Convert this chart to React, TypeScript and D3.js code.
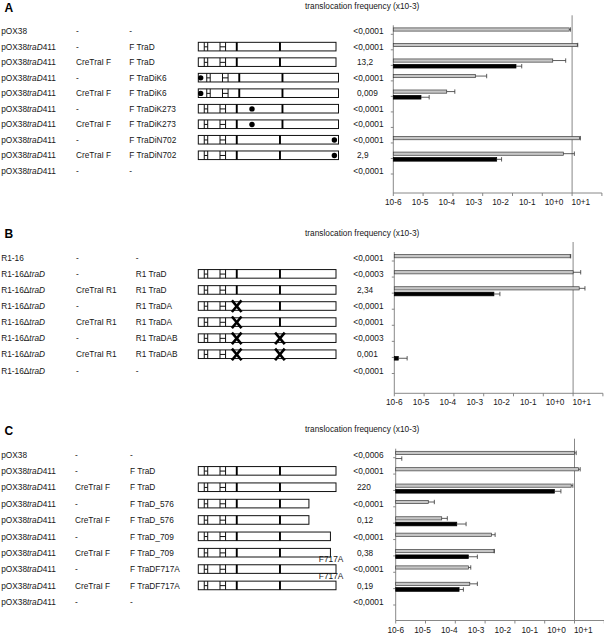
import React from "react";
import * as d3 from "d3";

// ---------- shared axis ----------
const tickValues = [1e-6, 1e-5, 1e-4, 1e-3, 1e-2, 1e-1, 1, 10];
const tickLabels = ["10-6", "10-5", "10-4", "10-3", "10-2", "10-1", "10+0", "10+1"];
const axisTitle = "translocation frequency (x10-3)";

// ---------- construct map features (aa positions) ----------
const hMotifs: [number, number][] = [[31, 49], [113, 142]];
const motifBars = [200, 425];
const insertSize = 13;

// ---------- Panel A ----------
const aStrain = ["pOX38", "pOX38traD411", "pOX38traD411", "pOX38traD411", "pOX38traD411", "pOX38traD411", "pOX38traD411", "pOX38traD411", "pOX38traD411", "pOX38traD411"];
const aRelaxase = ["-", "-", "CreTraI F", "-", "CreTraI F", "-", "CreTraI F", "-", "CreTraI F", "-"];
const aProtein = ["-", "F TraD", "F TraD", "F TraDiK6", "F TraDiK6", "F TraDiK273", "F TraDiK273", "F TraDiN702", "F TraDiN702", "-"];
const aFreq = ["<0,0001", "<0,0001", "13,2", "<0,0001", "0,009", "<0,0001", "<0,0001", "<0,0001", "2,9", "<0,0001"];
const aEnd = [null, 717, 717, 730, 730, 730, 730, 730, 730, null];
const aInsertAt = [null, null, null, 6, 6, 273, 273, 702, 702, null];
const aGray = [0.8, 1.49, 0.224, 5.65e-4, 6.2e-5, null, null, 1.75, 0.507, null];
const aGrayErr = [0.88, 1.55, 0.61, 1.36e-3, 1.16e-4, null, null, 1.9, 1.19, null];
const aBlack = [null, null, 0.0131, null, 8.5e-6, null, null, null, 2.95e-3, null];
const aBlackErr = [null, null, 0.0204, null, 1.6e-5, null, null, null, 4.3e-3, null];

// ---------- Panel B ----------
const bStrain = ["R1-16", "R1-16ΔtraD", "R1-16ΔtraD", "R1-16ΔtraD", "R1-16ΔtraD", "R1-16ΔtraD", "R1-16ΔtraD", "R1-16ΔtraD"];
const bRelaxase = ["-", "-", "CreTraI R1", "-", "CreTraI R1", "-", "CreTraI R1", "-"];
const bProtein = ["-", "R1 TraD", "R1 TraD", "R1 TraDA", "R1 TraDA", "R1 TraDAB", "R1 TraDAB", "-"];
const bFreq = ["<0,0001", "<0,0003", "2,34", "<0,0001", "<0,0001", "<0,0003", "0,001", "<0,0001"];
const bEnd = [null, 717, 717, 717, 717, 717, 717, null];
const bCrossed = [[], [], [], [200], [200], [200, 425], [200, 425], []];
const bGray = [0.8, 1.0, 1.6, null, null, null, null, null];
const bGrayErr = [0.83, 1.8, 2.5, null, null, null, null, null];
const bBlack = [null, null, 2.2e-3, null, null, null, 1.36e-6, null];
const bBlackErr = [null, null, 3.5e-3, null, null, null, 2.7e-6, null];

// ---------- Panel C ----------
const cStrain = ["pOX38", "pOX38traD411", "pOX38traD411", "pOX38traD411", "pOX38traD411", "pOX38traD411", "pOX38traD411", "pOX38traD411", "pOX38traD411", "pOX38traD411"];
const cRelaxase = ["-", "-", "CreTraI F", "-", "CreTraI F", "-", "CreTraI F", "-", "CreTraI F", "-"];
const cProtein = ["-", "F TraD", "F TraD", "F TraD_576", "F TraD_576", "F TraD_709", "F TraD_709", "F TraDF717A", "F TraDF717A", "-"];
const cFreq = ["<0,0006", "<0,0001", "220", "<0,0001", "0,12", "<0,0001", "0,38", "<0,0001", "0,19", "<0,0001"];
const cEnd = [null, 717, 717, 576, 576, 688, 688, 717, 717, null];
const cMutation = [null, null, null, null, null, null, null, "F717A", "F717A", null];
const cGray = [1.0, 1.36, 0.774, 1.24e-5, 3.5e-5, 1.63e-3, 2.0e-3, 2.75e-4, 3.06e-4, null];
const cGrayErr = [1.14, 1.55, 0.88, 1.98e-5, 5.4e-5, 2.17e-3, 2.04e-3, 3.3e-4, 5.5e-4, null];
const cBlack = [1e-6, null, 0.212, null, 1.12e-4, null, 2.75e-4, null, 1.34e-4, null];
const cBlackErr = [1.6e-6, null, 0.35, null, 2.3e-4, null, 5.5e-4, null, 1.87e-4, null];

const FONT = "'Liberation Sans', Arial, Helvetica, sans-serif";
const FS = 8.3;
const TXT = "#161616";

type Panel = {
  letter: string;
  strain: string[];
  relaxase: string[];
  protein: string[];
  freq: string[];
  end: (number | null)[];
  insertAt?: (number | null)[];
  crossed?: number[][];
  mutation?: (string | null)[];
  gray: (number | null)[];
  grayErr: (number | null)[];
  black: (number | null)[];
  blackErr: (number | null)[];
  rowTop: number;
  rowBottom: number;
  axisY: number;
  x0: number;
  col2: number;
  col3: number;
};

const panels: Panel[] = [
  {
    letter: "A", strain: aStrain, relaxase: aRelaxase, protein: aProtein, freq: aFreq,
    end: aEnd, insertAt: aInsertAt, gray: aGray, grayErr: aGrayErr, black: aBlack, blackErr: aBlackErr,
    rowTop: 31.3, rowBottom: 171, axisY: 193, x0: 393.3, col2: 76, col3: 129.3,
  },
  {
    letter: "B", strain: bStrain, relaxase: bRelaxase, protein: bProtein, freq: bFreq,
    end: bEnd, crossed: bCrossed, gray: bGray, grayErr: bGrayErr, black: bBlack, blackErr: bBlackErr,
    rowTop: 258, rowBottom: 370.5, axisY: 393.3, x0: 394.3, col2: 76, col3: 135.7,
  },
  {
    letter: "C", strain: cStrain, relaxase: cRelaxase, protein: cProtein, freq: cFreq,
    end: cEnd, mutation: cMutation, gray: cGray, grayErr: cGrayErr, black: cBlack, blackErr: cBlackErr,
    rowTop: 454.7, rowBottom: 602, axisY: 620.5, x0: 395.7, col2: 75, col3: 130,
  },
];

function StrainLabel({ text, x, y }: { text: string; x: number; y: number }) {
  const parts = text.split(/(traD)/).filter((p) => p.length > 0);
  return (
    <text x={x} y={y} fontFamily={FONT} fontSize={FS} fill={TXT}>
      {parts.map((p, i) => (
        <tspan key={i} fontStyle={p === "traD" ? "italic" : "normal"}>{p}</tspan>
      ))}
    </text>
  );
}

const sx = d3.scaleLinear().domain([0, 717]).range([198.3, 336]);

function Construct({ c, end, insAt, crossed, mutation }: { c: number; end: number; insAt: number | null; crossed: number[]; mutation: string | null }) {
  const shift = (p: number) => (insAt != null && p > insAt ? p + insertSize : p);
  const top = c - 4.5;
  const h = 8.6;
  return (
    <g>
      <rect x={sx(0)} y={top} width={sx(end) - sx(0)} height={h} fill="#fff" stroke="#111" strokeWidth={1} />
      {hMotifs.map(([a, b], i) => {
        const xa = sx(shift(a));
        const xb = sx(shift(b));
        return (
          <g key={i} stroke="#111" strokeWidth={1}>
            <line x1={xa} x2={xa} y1={top} y2={top + h} />
            <line x1={xb} x2={xb} y1={top} y2={top + h} />
            <line x1={xa} x2={xb} y1={c} y2={c} />
          </g>
        );
      })}
      {motifBars.map((p, i) => {
        const x = sx(shift(p));
        if (crossed.includes(p)) {
          return (
            <g key={i} stroke="#000" strokeWidth={2.6}>
              <line x1={x - 4.8} x2={x + 4.8} y1={c - 5.8} y2={c + 5.8} />
              <line x1={x + 4.8} x2={x - 4.8} y1={c - 5.8} y2={c + 5.8} />
            </g>
          );
        }
        return <rect key={i} x={x - 0.9} y={top} width={1.9} height={h} fill="#000" />;
      })}
      {insAt != null && <circle cx={sx(insAt + insertSize / 2)} cy={c} r={2.7} fill="#000" />}
      {mutation && (
        <text x={343.3} y={c - 6.8} textAnchor="end" fontFamily={FONT} fontSize={FS} fill={TXT}>{mutation}</text>
      )}
    </g>
  );
}

function PanelView({ p }: { p: Panel }) {
  const n = p.strain.length;
  const rows = d3.range(n);
  const ys = d3.scalePoint<number>().domain(rows).range([p.rowTop, p.rowBottom]);
  const xs = d3.scaleLog().domain([1e-6, 10]).range([p.x0, p.x0 + 7 * 29.8]);
  const xl = d3.scalePoint<string>().domain(tickLabels).range([p.x0, p.x0 + 7 * 26.8]);
  const vlineX = xs(1);

  const bar = (v: number | null, e: number | null, c: number, kind: "gray" | "black", key: string) => {
    if (v == null) return null;
    const y = kind === "gray" ? c - 3.4 : c + 2;
    const hh = kind === "gray" ? 3.2 : 3.7;
    const xe = e != null ? xs(e) : xs(v);
    const my = y + hh / 2;
    return (
      <g key={key}>
        <rect x={p.x0} y={y} width={Math.max(0, xs(v) - p.x0)} height={hh}
          fill={kind === "gray" ? "#c6c6c6" : "#000"}
          stroke={kind === "gray" ? "#3c3c3c" : "#000"} strokeWidth={0.7} />
        {e != null && (
          <g stroke="#333" strokeWidth={0.8}>
            <line x1={xs(v)} x2={xe} y1={my} y2={my} />
            <line x1={xe} x2={xe} y1={my - 2.2} y2={my + 2.2} />
          </g>
        )}
      </g>
    );
  };

  return (
    <g>
      <text x={4.5} y={p.rowTop - 19.7} fontFamily={FONT} fontSize={12} fontWeight="bold" fill="#000">{p.letter}</text>
      <text x={305} y={p.rowTop - 22.5} fontFamily={FONT} fontSize={FS} fill={TXT}>{axisTitle}</text>

      {rows.map((i) => {
        const c = ys(i)!;
        const end = p.end[i];
        return (
          <g key={i}>
            <StrainLabel text={p.strain[i]} x={1.2} y={c + 3} />
            <text x={p.col2} y={c + 3} fontFamily={FONT} fontSize={FS} fill={TXT}>{p.relaxase[i]}</text>
            <text x={p.col3} y={c + 3} fontFamily={FONT} fontSize={FS} fill={TXT}>{p.protein[i]}</text>
            {end != null && (
              <Construct c={c} end={end}
                insAt={p.insertAt ? p.insertAt[i] : null}
                crossed={p.crossed ? p.crossed[i] : []}
                mutation={p.mutation ? p.mutation[i] : null} />
            )}
            <text x={p.freq[i].startsWith("<") ? 353.3 : 357} y={c + 3} fontFamily={FONT} fontSize={FS} fill={TXT}>{p.freq[i]}</text>
          </g>
        );
      })}

      {/* axes */}
      <g stroke="#7a7a7a" strokeWidth={0.9}>
        <line x1={vlineX} x2={vlineX} y1={p.rowTop - 16} y2={p.axisY} />
        <line x1={p.x0} x2={p.x0} y1={p.rowTop - 6} y2={p.axisY} />
        <line x1={p.x0} x2={xs(10)} y1={p.axisY} y2={p.axisY} />
        {tickValues.map((t, i) => (
          <line key={i} x1={xs(t)} x2={xs(t)} y1={p.axisY} y2={p.axisY + 3} />
        ))}
        {rows.map((i) => (
          <line key={"yt" + i} x1={p.x0 - 2.5} x2={p.x0} y1={ys(i)! + 3} y2={ys(i)! + 3} />
        ))}
      </g>

      {rows.map((i) => (
        <g key={"b" + i}>
          {bar(p.gray[i], p.grayErr[i], ys(i)!, "gray", "g" + i)}
          {bar(p.black[i], p.blackErr[i], ys(i)!, "black", "k" + i)}
        </g>
      ))}

      {tickLabels.map((l) => (
        <text key={l} x={xl(l)} y={p.axisY + 12} textAnchor="middle" fontFamily={FONT} fontSize={FS} fill={TXT}>{l}</text>
      ))}
    </g>
  );
}

export default function App() {
  return (
    <svg width={604} height={635} style={{ position: "absolute", left: 0, top: 0, background: "#fff" }}>
      <rect x={0} y={0} width={604} height={635} fill="#fff" />
      {panels.map((p) => (
        <PanelView key={p.letter} p={p} />
      ))}
    </svg>
  );
}
